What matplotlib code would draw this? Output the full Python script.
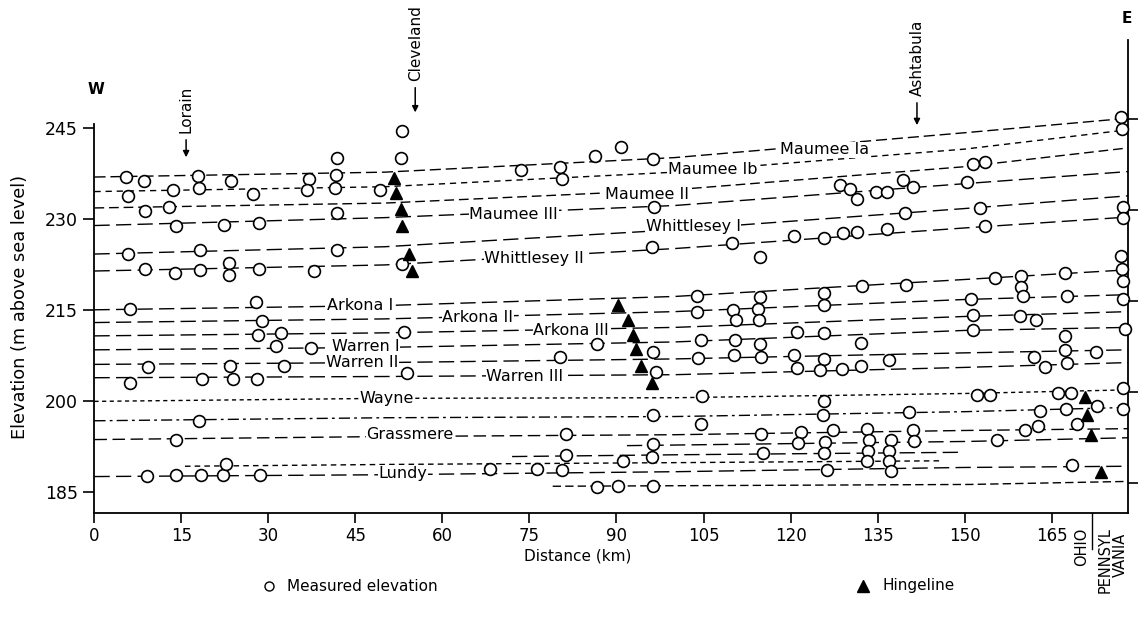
import matplotlib
matplotlib.use("Agg")
import matplotlib.pyplot as plt
import numpy as np

plt.rcParams['font.family'] = ['DejaVu Sans']

# ---------------- data ----------------
x_ticks = [0, 15, 30, 45, 60, 75, 90, 105, 120, 135, 150, 165]
y_ticks = [185, 200, 215, 230, 245]

# shoreline anchor distances (km)
shore_km = [0, 50, 100, 150, 178.2]
maumee_ia = [236.9, 237.7, 240.1, 244.2, 246.6]
maumee_ib = [234.5, 235.3, 237.7, 241.5, 244.7]
maumee_ii = [231.8, 232.6, 234.8, 238.6, 241.7]
maumee_iii = [228.9, 230.2, 232.2, 235.8, 237.8]
whittlesey_i = [224.2, 225.4, 228.2, 231.7, 233.8]
whittlesey_ii = [221.4, 222.4, 225.1, 228.5, 230.3]
arkona_i = [215.0, 215.7, 217.2, 220.0, 221.6]
arkona_ii = [212.9, 213.5, 214.7, 216.7, 217.5]
arkona_iii = [210.7, 211.2, 212.1, 213.9, 214.7]
warren_i = [208.4, 208.8, 209.7, 211.6, 212.1]
warren_ii = [206.0, 206.3, 206.9, 207.9, 208.4]
warren_iii = [203.8, 204.0, 204.3, 205.5, 206.3]
wayne = [199.9, 200.4, 200.5, 201.2, 201.8]
unnamed_line = [196.7, 197.2, 197.4, 198.2, 198.9]
grassmere = [193.6, 194.1, 194.4, 195.1, 195.4]
lundy = [187.5, 187.8, 188.3, 189.0, 189.2]

# partial shorelines
short1_km = [15.6, 51.0, 101.0, 146.3]
short1_m = [189.2, 189.5, 189.8, 190.1]
short2_km = [72.0, 101.0, 149.2]
short2_m = [190.8, 191.1, 191.5]
short3_km = [91.8, 151.0, 178.2]
short3_m = [192.6, 193.3, 193.9]
short4_km = [79.0, 151.0, 178.2]
short4_m = [185.9, 186.2, 186.7]

# measured elevations
meas_km = [5.4, 8.5, 5.7, 17.9, 18.1, 13.6, 23.5, 27.4, 37.0, 36.6, 41.8, 41.6, 41.5, 49.2,
           8.7, 12.8, 41.8, 14.1, 22.4, 28.4, 5.7, 18.2, 41.8, 8.8, 13.9, 18.2, 23.2, 23.2,
           28.4, 37.8, 53.0, 52.8, 73.5, 80.3, 80.6, 86.3, 90.7, 96.3, 96.5, 96.2, 53.0,
           128.5, 130.3, 131.4, 134.7, 136.6, 139.4, 141.2, 139.7, 109.9, 114.7, 120.6, 125.7,
           129.0, 131.5, 136.7, 103.8, 114.7, 125.8, 132.3, 139.9, 176.9, 177.1, 151.5, 153.5,
           150.5, 152.7, 153.5, 177.3, 177.3, 176.9, 177.1, 177.3, 155.3, 159.7, 159.7, 160.0,
           167.3, 167.7, 151.2, 177.4, 6.2, 27.8, 28.8, 28.2, 32.1, 31.3, 37.3, 9.2, 23.4, 32.6,
           6.2, 18.5, 23.8, 28.1, 18.1, 14.0, 9.1, 14.0, 18.4, 22.2, 22.7, 28.5, 53.4, 53.8,
           86.7, 80.3, 96.3, 96.8, 96.3, 81.3, 81.3, 96.3, 96.1, 91.2, 68.2, 76.3, 80.6, 86.6,
           90.3, 96.3, 125.8, 103.9, 110.1, 110.6, 114.4, 114.6, 121.1, 125.8, 132.1, 104.5,
           110.4, 114.7, 104.1, 110.3, 114.9, 120.6, 125.7, 121.1, 125.0, 128.8, 132.1, 137.0,
           104.7, 125.7, 125.6, 140.5, 104.6, 114.9, 121.8, 127.3, 133.2, 141.1, 121.3, 125.9,
           133.6, 137.4, 141.3, 115.3, 125.8, 133.4, 136.9, 133.2, 136.9, 126.3, 137.4, 151.4,
           159.6, 162.4, 151.5, 177.7, 167.3, 167.3, 162.0, 172.7, 163.9, 167.6, 152.1, 154.4,
           166.2, 168.4, 177.3, 172.8, 163.0, 167.5, 177.4, 160.4, 162.7, 169.4, 155.6, 168.5]
meas_m = [236.9, 236.2, 233.8, 237.0, 235.1, 234.8, 236.2, 234.1, 236.5, 234.7, 240.0, 237.3,
          235.1, 234.8, 231.3, 231.9, 231.0, 228.9, 229.0, 229.3, 224.2, 224.8, 224.8, 221.7,
          221.1, 221.5, 222.7, 220.8, 221.7, 221.4, 244.5, 240.0, 238.0, 238.5, 236.5, 240.4,
          241.9, 239.9, 231.9, 225.3, 222.6, 235.6, 234.9, 233.3, 234.5, 234.5, 236.4, 235.2,
          231.0, 226.1, 223.7, 227.1, 226.8, 227.7, 227.8, 228.3, 217.3, 217.1, 217.7, 218.9,
          219.1, 246.8, 244.8, 239.0, 239.3, 236.0, 231.8, 228.9, 231.9, 230.2, 223.9, 221.7,
          219.7, 220.2, 220.6, 218.8, 217.2, 221.0, 217.2, 216.8, 216.8, 215.1, 216.3, 213.1,
          210.9, 211.1, 209.1, 208.7, 205.6, 205.7, 205.8, 202.9, 203.6, 203.6, 203.6, 196.6,
          193.6, 187.6, 187.7, 187.7, 187.7, 189.5, 187.8, 211.4, 204.6, 209.4, 207.2, 208.1,
          204.7, 197.6, 194.6, 191.1, 192.9, 190.8, 190.0, 188.7, 188.7, 188.5, 185.8, 185.9,
          185.9, 215.8, 214.6, 214.9, 213.3, 215.1, 213.3, 211.3, 211.2, 209.6, 210.0, 210.0,
          209.3, 207.1, 207.6, 207.3, 207.6, 206.9, 205.4, 205.0, 205.2, 205.8, 206.7, 200.8,
          199.9, 197.7, 198.1, 196.1, 194.6, 194.8, 195.1, 195.4, 195.2, 193.1, 193.2, 193.5,
          193.5, 193.3, 191.4, 191.4, 191.7, 191.7, 190.0, 190.0, 188.5, 188.4, 214.2, 214.0,
          213.4, 211.6, 211.8, 210.6, 208.4, 207.3, 208.0, 205.6, 206.3, 201.0, 201.0, 201.3,
          201.3, 202.1, 199.2, 198.3, 198.7, 198.7, 195.2, 195.9, 196.1, 193.6, 189.4]

# hingeline points
hinge_km = [51.6, 52.0, 52.8, 53.0, 54.3, 54.8, 90.3, 91.9, 92.8, 93.4, 94.3, 96.1,
            170.8, 171.1, 171.8, 173.5]
hinge_m = [236.7, 234.2, 231.7, 228.9, 224.2, 221.4, 215.8, 213.3, 210.9, 208.6, 205.8, 202.9,
           200.6, 197.7, 194.4, 188.2]

line_names = ["Maumee Ia", "Maumee Ib", "Maumee II", "Maumee III", "Whittlesey I",
              "Whittlesey II", "Arkona I", "Arkona II", "Arkona III", "Warren I", "Warren II",
              "Warren III", "Wayne", "Grassmere", "Lundy"]
label_km = [125.8, 106.6, 95.2, 72.3, 103.2, 75.8, 45.8, 66.1, 82.2, 46.8, 46.1, 74.2, 50.4,
            54.4, 53.2]
label_m = [241.4, 238.1, 234.0, 230.7, 228.7, 223.4, 215.7, 213.7, 211.6, 208.9, 206.3, 204.0,
           200.4, 194.4, 188.0]

towns = ["Lorain", "Cleveland", "Ashtabula"]
town_km = [15.8, 55.3, 141.8]

# ---------------- figure ----------------
fig = plt.figure(figsize=(11.38, 6.18), dpi=100)
ax = fig.add_axes([0.083, 0.170, 0.9083, 0.7653])
ax.set_xlim(0, 178.2)
ax.set_ylim(181.5, 259.5)

LONG = (11, 4.5)
styles = {
    "Maumee Ia": (8, 3.5), "Maumee Ib": (4.5, 3.5), "Maumee II": (7, 3.5),
    "Wayne": (3, 2.5), "Grassmere": (9, 4),
}
shore_lines = [maumee_ia, maumee_ib, maumee_ii, maumee_iii, whittlesey_i, whittlesey_ii,
               arkona_i, arkona_ii, arkona_iii, warren_i, warren_ii, warren_iii, wayne,
               unnamed_line, grassmere, lundy]
shore_names = line_names[:13] + ["unnamed"] + line_names[13:]
for vals, nm in zip(shore_lines, shore_names):
    if nm == "unnamed":
        d = (8, 3, 2, 3)
    else:
        d = styles.get(nm, LONG)
    ln, = ax.plot(shore_km, vals, color='black', lw=1.0, zorder=2)
    ln.set_dashes(d)

for kx, my, d in [(short1_km, short1_m, (4, 3)), (short2_km, short2_m, LONG),
                  (short3_km, short3_m, LONG), (short4_km, short4_m, (6, 3))]:
    ln, = ax.plot(kx, my, color='black', lw=1.0, zorder=2)
    ln.set_dashes(d)

for nm, kx, my in zip(line_names, label_km, label_m):
    ax.text(kx, my, nm, ha='center', va='center', fontsize=11.5, zorder=3,
            bbox=dict(facecolor='white', edgecolor='none', pad=0.5))

ax.plot(meas_km, meas_m, 'o', ms=8.5, mfc='white', mec='black', mew=1.2, zorder=4,
        clip_on=False)
ax.plot(hinge_km, hinge_m, '^', ms=8.5, color='black', zorder=5)

# spines & ticks
ax.spines['top'].set_visible(False)
ax.spines['left'].set_bounds(181.5, 245.6)
for s in ['left', 'bottom', 'right']:
    ax.spines[s].set_linewidth(1.3)
ax.set_xticks(x_ticks)
ax.set_xticklabels([str(v) for v in x_ticks])
ax.set_yticks(y_ticks)
ax.set_yticklabels([str(v) for v in y_ticks])
ax.tick_params(axis='y', direction='out', length=8, width=1.2, labelsize=12.5, pad=4)
ax.tick_params(axis='x', direction='out', length=7, width=1.2, labelsize=12, pad=3)

axr = ax.twinx()
axr.set_ylim(ax.get_ylim())
axr.set_yticks([v + 1.5 for v in y_ticks])
axr.set_yticklabels([])
axr.tick_params(axis='y', direction='out', length=8, width=1.2)
for s in ['top', 'left', 'bottom', 'right']:
    axr.spines[s].set_visible(False)

# state boundary tick
ax.plot([171.9, 171.9], [181.5, 175.5], color='black', lw=1.0, clip_on=False)
ax.text(170.2, 179.1, "OHIO", rotation=90, ha='center', va='top', fontsize=10.5)
ax.text(174.2, 179.1, "PENNSYL", rotation=90, ha='center', va='top', fontsize=10.5)
ax.text(176.8, 178.3, "VANIA", rotation=90, ha='center', va='top', fontsize=10.5)

# towns
arrow_tip = [239.7, 247.1, 245.0]
arrow_tail = [243.5, 252.1, 249.6]
for nm, kx, tip, tail in zip(towns, town_km, arrow_tip, arrow_tail):
    ax.annotate('', xy=(kx, tip), xytext=(kx, tail),
                arrowprops=dict(arrowstyle='-|>', lw=1.1, color='black', mutation_scale=9),
                annotation_clip=False)
    ax.text(kx, tail + 0.6, nm, rotation=90, ha='center', va='bottom', fontsize=11,
            clip_on=False)

ax.text(0.3, 251.3, "W", ha='center', va='center', fontsize=11, fontweight='bold')
ax.text(178.0, 263.1, "E", ha='center', va='center', fontsize=11, fontweight='bold',
        clip_on=False)

# axis labels
fig.text(0.018, 0.503, "Elevation (m above sea level)", rotation=90, ha='center',
         va='center', fontsize=12.8)
fig.text(0.508, 0.100, "Distance (km)", ha='center', va='center', fontsize=11)

# legend
ax.plot([30.1], [169.4], 'o', ms=6.5, mfc='white', mec='black', mew=1.0, clip_on=False)
ax.text(33.2, 169.4, "Measured elevation", ha='left', va='center', fontsize=11)
ax.plot([132.5], [169.5], '^', ms=8, color='black', clip_on=False)
ax.text(135.8, 169.5, "Hingeline", ha='left', va='center', fontsize=11)

fig.savefig("out.png", dpi=100)
